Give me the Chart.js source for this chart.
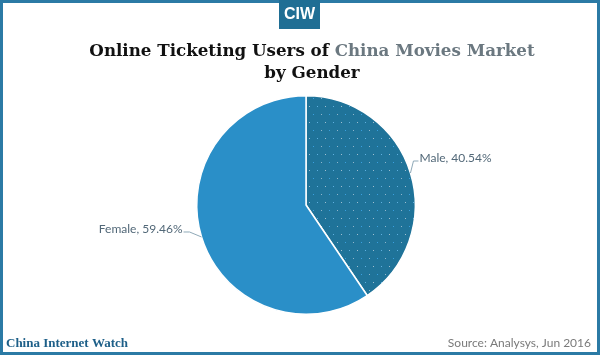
<!DOCTYPE html>
<html>
<head>
<meta charset="utf-8">
<script src="https://cdn.jsdelivr.net/npm/chart.js@4/dist/chart.umd.min.js"></script>
<style>
html,body{margin:0;padding:0;background:#fff;}
#wrap{position:relative;width:600px;height:355px;}
</style>
</head>
<body>
<div id="wrap"><canvas id="c" width="600" height="355"></canvas></div>
<script>
const categories = ["Male", "Female"];
const shares = [40.54, 59.46];
const sliceColors = ["#1f7399", "#2a8fc8"];
const titleParts = [["Online Ticketing Users of ", "#111111"], ["China Movies Market", "#6b7880"]];
const titleLine2 = "by Gender";
const footerLeft = "China Internet Watch";
const footerRight = "Source: Analysys, Jun 2016";

function dotPattern(base) {
  const p = document.createElement('canvas');
  p.width = 16; p.height = 16;
  const g = p.getContext('2d');
  g.fillStyle = base; g.fillRect(0, 0, 16, 16);
  const dots = [[1,2,'#8fb6cc'],[9,2,'#3aa0e0'],[5,10,'#9fbfd0'],[13,10,'#5fb0e0']];
  dots.forEach(d => { g.fillStyle = d[2]; g.fillRect(d[0], d[1], 1, 1); });
  return g.createPattern(p, 'repeat');
}

const decor = {
  id: 'decor',
  beforeDraw(chart) {
    const ctx = chart.ctx;
    ctx.save();
    ctx.fillStyle = '#ffffff';
    ctx.fillRect(0, 0, 600, 355);
    ctx.restore();
  },
  afterDraw(chart) {
    const ctx = chart.ctx;
    ctx.save();
    // frame
    ctx.strokeStyle = '#2b7aa5';
    ctx.lineWidth = 3;
    ctx.strokeRect(1.5, 1.5, 597, 352);
    // logo
    ctx.fillStyle = '#1f6e94';
    ctx.fillRect(279, 0, 41, 29);
    ctx.fillStyle = '#ffffff';
    ctx.font = 'bold 16px "Liberation Sans Narrow", "Liberation Sans", sans-serif';
    ctx.textAlign = 'center';
    ctx.textBaseline = 'middle';
    ctx.fillText('CIW', 299.5, 15);
    // title
    ctx.font = 'bold 16.7px "DejaVu Serif", serif';
    ctx.textBaseline = 'alphabetic';
    ctx.textAlign = 'left';
    const w1 = ctx.measureText(titleParts[0][0]).width;
    const w2 = ctx.measureText(titleParts[1][0]).width;
    let x = 312 - (w1 + w2) / 2;
    ctx.fillStyle = titleParts[0][1]; ctx.fillText(titleParts[0][0], x, 56);
    ctx.fillStyle = titleParts[1][1]; ctx.fillText(titleParts[1][0], x + w1, 56);
    ctx.fillStyle = '#111111'; ctx.textAlign = 'center';
    ctx.fillText(titleLine2, 312, 78);
    // footer
    ctx.font = 'bold 13px "Liberation Serif", serif';
    ctx.textAlign = 'left'; ctx.fillStyle = '#1d5f88';
    ctx.fillText(footerLeft, 6, 347);
    ctx.font = '12px Lato, sans-serif';
    ctx.textAlign = 'right'; ctx.fillStyle = '#7a7a7a';
    ctx.fillText(footerRight, 591, 347);
    // slice labels with leaders
    const meta = chart.getDatasetMeta(0);
    ctx.font = '12px Lato, sans-serif';
    ctx.strokeStyle = '#8fa9b8';
    ctx.lineWidth = 1;
    meta.data.forEach((arc, i) => {
      const p = arc.getProps(['x','y','startAngle','endAngle','outerRadius'], true);
      const mid = (p.startAngle + p.endAngle) / 2;
      const sx = p.x + Math.cos(mid) * p.outerRadius;
      const sy = p.y + Math.sin(mid) * p.outerRadius;
      const right = Math.cos(mid) >= 0;
      const ex = right ? sx + 3 : sx - 12;
      const ey = right ? sy - 12 : sy - 5;
      const hx = right ? ex + 5 : ex - 6;
      ctx.beginPath();
      ctx.moveTo(sx, sy); ctx.lineTo(ex, ey); ctx.lineTo(hx, ey);
      ctx.stroke();
      ctx.fillStyle = '#526878';
      ctx.textAlign = right ? 'left' : 'right';
      ctx.textBaseline = 'middle';
      ctx.fillText(categories[i] + ', ' + shares[i].toFixed(2) + '%', right ? hx + 1 : hx - 1, ey - 3);
    });
    ctx.restore();
  }
};

new Chart(document.getElementById('c'), {
  type: 'pie',
  data: {
    labels: categories,
    datasets: [{
      data: shares,
      backgroundColor: [dotPattern(sliceColors[0]), sliceColors[1]],
      borderColor: '#ffffff',
      borderWidth: 1.5
    }]
  },
  options: {
    responsive: false,
    animation: false,
    layout: { padding: { top: 95, bottom: 40, left: 196, right: 184 } },
    plugins: { legend: { display: false }, tooltip: { enabled: false }, title: { display: false } }
  },
  plugins: [decor]
});
</script>
</body>
</html>
